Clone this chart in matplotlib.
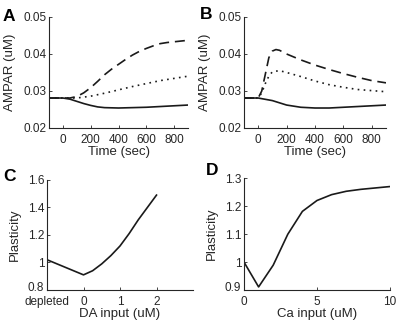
import matplotlib
matplotlib.use('Agg')
import matplotlib.pyplot as plt
import matplotlib.transforms as mtransforms

plt.rcParams['font.family'] = ['Liberation Sans', 'DejaVu Sans']
plt.rcParams['axes.unicode_minus'] = False

# ==========================================
# data
# ==========================================
# A: AMPAR time course (sec, uM)
t_a = [-100, 0, 50, 100, 150, 200, 250, 300, 400, 500, 600, 700, 800, 900]
a_solid = [0.0281, 0.0281, 0.0278, 0.0272, 0.0266, 0.0261, 0.0257, 0.0255,
           0.0254, 0.0255, 0.0256, 0.0258, 0.0260, 0.0262]
a_dash_t = [-100, 0, 50, 100, 150, 200, 250, 300, 350, 400, 450, 500, 550,
            600, 650, 700, 750, 800, 850, 900]
a_dash = [0.0281, 0.0281, 0.0281, 0.0285, 0.0295, 0.0309, 0.0326, 0.0344,
          0.0359, 0.0372, 0.0385, 0.0397, 0.0407, 0.0415, 0.0422, 0.0428,
          0.0431, 0.0433, 0.0435, 0.0437]
a_dot_t = [-100, 0, 100, 200, 300, 400, 500, 600, 700, 800, 900]
a_dot = [0.0281, 0.0281, 0.0281, 0.0286, 0.0294, 0.0303, 0.0312, 0.0320,
         0.0328, 0.0334, 0.0340]

# B: AMPAR time course, second protocol
t_b = [-100, 0, 100, 200, 300, 400, 500, 600, 700, 800, 900]
b_solid = [0.0281, 0.0281, 0.0274, 0.0262, 0.0256, 0.0254, 0.0254, 0.0256,
           0.0258, 0.0260, 0.0262]
b_dash_t = [-100, 0, 25, 50, 75, 100, 125, 150, 200, 300, 400, 500, 600,
            700, 800, 900]
b_dash = [0.0281, 0.0281, 0.0300, 0.0345, 0.0390, 0.0408, 0.0412, 0.0410,
          0.0400, 0.0384, 0.0370, 0.0358, 0.0347, 0.0337, 0.0328, 0.0322]
b_dot_t = [-100, 0, 25, 50, 75, 100, 150, 200, 300, 400, 500, 600, 700,
           800, 900]
b_dot = [0.0281, 0.0281, 0.0295, 0.0320, 0.0340, 0.0352, 0.0355, 0.0350,
         0.0339, 0.0327, 0.0317, 0.0310, 0.0304, 0.0301, 0.0298]

# C: plasticity vs DA input (-1 = depleted)
da_input = [-1, 0, 0.25, 0.5, 0.75, 1.0, 1.25, 1.5, 1.75, 2.0]
da_plast = [1.02, 0.91, 0.94, 0.99, 1.05, 1.12, 1.21, 1.31, 1.40, 1.49]
da_ticks = [-1, 0, 1, 2]
da_ticklabels = ['depleted', '0', '1', '2']

# D: plasticity vs Ca input
ca_input = [0, 1, 2, 3, 4, 5, 6, 7, 8, 9, 10]
ca_plast = [1.0, 0.911, 0.989, 1.10, 1.182, 1.221, 1.242, 1.254, 1.261,
            1.266, 1.271]

# ==========================================
# plotting
# ==========================================
LC = '#1a1a1a'
TC = '#262626'
LW = 1.2
DASH = (0, (6, 3.5))
DOT = (0, (1, 2.6))
LABEL_FS = 9.5


def style_axes(ax):
    ax.spines['top'].set_visible(False)
    ax.spines['right'].set_visible(False)
    for s in ('left', 'bottom'):
        ax.spines[s].set_linewidth(0.8)
        ax.spines[s].set_color(TC)
    ax.tick_params(direction='in', length=2.5, width=0.6, labelsize=8.5,
                   colors=TC)
    ax.tick_params(axis='x', pad=4)
    ax.tick_params(axis='y', pad=2)


fig = plt.figure(figsize=(4.0, 3.28), dpi=100)

# A
ax1 = fig.add_axes([0.1225, 0.6098, 0.3475, 0.3384])
ax1.plot(a_dash_t, a_dash, color=LC, lw=LW, linestyle=DASH)
ax1.plot(a_dot_t, a_dot, color=LC, lw=LW, linestyle=DOT)
ax1.plot(t_a, a_solid, color=LC, lw=LW)
ax1.set_xlim(-100, 900)
ax1.set_ylim(0.02, 0.05)
ax1.set_xticks([0, 200, 400, 600, 800])
ax1.set_yticks([0.02, 0.03, 0.04, 0.05])
ax1.set_yticklabels(['0.02', '0.03', '0.04', '0.05'])
ax1.set_xlabel('Time (sec)', fontsize=LABEL_FS, color=TC, labelpad=0.5)
ax1.set_ylabel('AMPAR (uM)', fontsize=LABEL_FS, color=TC, labelpad=5)
style_axes(ax1)

# B
ax2 = fig.add_axes([0.61, 0.6098, 0.355, 0.3384])
ax2.plot(b_dash_t, b_dash, color=LC, lw=LW, linestyle=DASH)
ax2.plot(b_dot_t, b_dot, color=LC, lw=LW, linestyle=DOT)
ax2.plot(t_b, b_solid, color=LC, lw=LW)
ax2.set_xlim(-100, 900)
ax2.set_ylim(0.02, 0.05)
ax2.set_xticks([0, 200, 400, 600, 800])
ax2.set_yticks([0.02, 0.03, 0.04, 0.05])
ax2.set_yticklabels(['0.02', '0.03', '0.04', '0.05'])
ax2.set_xlabel('Time (sec)', fontsize=LABEL_FS, color=TC, labelpad=0.5)
ax2.set_ylabel('AMPAR (uM)', fontsize=LABEL_FS, color=TC, labelpad=5)
style_axes(ax2)

# C
ax3 = fig.add_axes([0.1175, 0.1159, 0.365, 0.3354])
ax3.plot(da_input, da_plast, color=LC, lw=LW)
ax3.set_xlim(-1, 3)
ax3.set_ylim(0.8, 1.6)
ax3.set_xticks(da_ticks)
ax3.set_xticklabels(da_ticklabels)
ax3.set_yticks([0.8, 1.0, 1.2, 1.4, 1.6])
ax3.set_yticklabels(['0.8', '1', '1.2', '1.4', '1.6'])
ax3.set_xlabel('DA input (uM)', fontsize=LABEL_FS, color=TC, labelpad=0.5)
ax3.set_ylabel('Plasticity', fontsize=LABEL_FS, color=TC, labelpad=5)
style_axes(ax3)

# D
ax4 = fig.add_axes([0.61, 0.1159, 0.365, 0.34])
ax4.plot(ca_input, ca_plast, color=LC, lw=LW)
ax4.set_xlim(0, 10)
ax4.set_ylim(0.9, 1.3)
ax4.set_xticks([0, 5, 10])
ax4.set_yticks([0.9, 1.0, 1.1, 1.2, 1.3])
ax4.set_yticklabels(['0.9', '1', '1.1', '1.2', '1.3'])
ax4.set_xlabel('Ca input (uM)', fontsize=LABEL_FS, color=TC, labelpad=0.5)
ax4.set_ylabel('Plasticity', fontsize=LABEL_FS, color=TC, labelpad=5)
style_axes(ax4)

# lowest y labels in C/D sit slightly above the corner (as in the original)
shift_up = mtransforms.ScaledTranslation(0, 2.5 / 72, fig.dpi_scale_trans)
for ax in (ax3, ax4):
    lab = ax.get_yticklabels()[0]
    lab.set_transform(lab.get_transform() + shift_up)

# panel letters
for lbl, x, y in [('A', 0.022, 0.95), ('B', 0.515, 0.955),
                  ('C', 0.025, 0.463), ('D', 0.53, 0.48)]:
    fig.text(x, y, lbl, fontsize=12.5, fontweight='bold', color='black',
             ha='center', va='center')

fig.savefig('out.png', dpi=100)
